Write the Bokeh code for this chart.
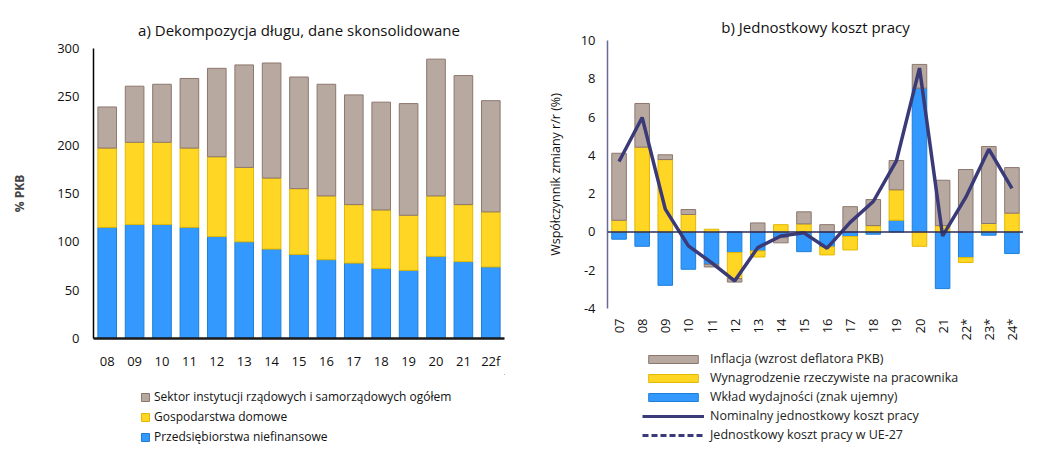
from math import pi
from bokeh.plotting import figure
from bokeh.layouts import row, column
from bokeh.models import (Legend, LegendItem, FactorRange, Range1d, Span, FixedTicker,
                          PrintfTickFormatter)
from bokeh.embed import file_html
from bokeh.resources import INLINE

FONT = "Open Sans"

# ---------- panel a data ----------
years_a = ["08", "09", "10", "11", "12", "13", "14", "15", "16", "17", "18", "19", "20", "21", "22f"]
przedsiebiorstwa = [115, 118, 118, 115, 105.5, 100, 92.5, 87, 81.5, 78, 72.5, 70.5, 85, 79.5, 74]
gospodarstwa = [82, 85, 85, 82, 82.5, 77, 73.5, 68, 66, 60.5, 60.5, 57, 62.5, 59, 57]
sektor_rzadowy = [42.5, 58, 60, 72, 91.5, 106, 119, 115.5, 115.5, 113.5, 111.5, 115.5, 141.5, 133.5, 115]
ticks_a = [0, 50, 100, 150, 200, 250, 300]

# ---------- panel b data ----------
years_b = ["07", "08", "09", "10", "11", "12", "13", "14", "15", "16", "17", "18", "19", "20", "21", "22*", "23*", "24*"]
wydajnosc = [-0.38, -0.75, -2.79, -1.95, -1.69, -1.08, -0.99, -0.30, -1.03, -0.78, -0.24, -0.12, 0.61, 7.51, -2.96, -1.34, -0.17, -1.13]
wynagrodzenie = [0.61, 4.43, 3.78, 0.91, 0.14, -1.36, -0.32, 0.38, 0.42, -0.42, -0.70, 0.33, 1.59, -0.75, 0.33, -0.26, 0.44, 0.98]
inflacja = [3.50, 2.28, 0.25, 0.26, -0.14, -0.18, 0.47, -0.27, 0.63, 0.38, 1.32, 1.36, 1.53, 1.24, 2.37, 3.26, 4.02, 2.38]
nominalny_jkp = [3.68, 5.98, 1.19, -0.73, -1.60, -2.56, -0.82, -0.21, -0.05, -0.85, 0.50, 1.59, 3.71, 8.56, -0.21, 1.80, 4.32, 2.28]
ticks_b = [-4, -2, 0, 2, 4, 6, 8, 10]

labels_a = ["Sektor instytucji rządowych i samorządowych ogółem", "Gospodarstwa domowe",
            "Przedsiębiorstwa niefinansowe"]
labels_b = ["Inflacja (wzrost deflatora PKB)", "Wynagrodzenie rzeczywiste na pracownika",
            "Wkład wydajności (znak ujemny)", "Nominalny jednostkowy koszt pracy",
            "Jednostkowy koszt pracy w UE-27"]

BLUE, BLUE_L = "#3399FF", "#1F7FD6"
YELLOW, YELLOW_L = "#FFD624", "#E3B800"
GREY, GREY_L = "#B8A9A0", "#8C776D"
NAVY = "#3A3A78"


def style_axes(p, tick_size):
    for ax in (p.xaxis[0], p.yaxis[0]):
        ax.major_tick_line_color = None
        ax.minor_tick_line_color = None
        ax.major_tick_out = 0
        ax.major_tick_in = 0
        ax.minor_tick_out = 0
        ax.minor_tick_in = 0
        ax.major_label_text_font = FONT
        ax.major_label_text_font_size = tick_size
        ax.major_label_text_color = "#111111"
        ax.axis_label_text_font = FONT
    p.xgrid.grid_line_color = None
    p.ygrid.grid_line_color = None
    p.outline_line_color = None
    p.title.text_font = FONT
    p.title.text_font_style = "normal"
    p.title.text_font_size = "15px"
    p.title.text_color = "#111111"
    p.title.align = "center"


def legend_fig(width, height):
    f = figure(width=width, height=height, x_range=Range1d(0, 1), y_range=Range1d(0, 1),
               min_border=0, output_backend="svg", toolbar_location=None)
    f.axis.visible = False
    f.xgrid.grid_line_color = None
    f.ygrid.grid_line_color = None
    f.outline_line_color = None
    return f


# ---------- panel a ----------
pa = figure(x_range=FactorRange(factors=years_a, range_padding=0), y_range=Range1d(0, 300),
            width=517, height=374, min_border_left=93, min_border_right=13,
            min_border_top=48, min_border_bottom=36,
            output_backend="svg", toolbar_location=None,
            title="a) Dekompozycja długu, dane skonsolidowane")
style_axes(pa, "13px")
pa.title.standoff = 17
data_a = dict(x=years_a, p1=przedsiebiorstwa, p2=gospodarstwa, p3=sektor_rzadowy)
pa.vbar_stack(["p1", "p2", "p3"], x="x", width=0.68, source=data_a,
              fill_color=[BLUE, YELLOW, GREY], line_color=[BLUE_L, YELLOW_L, GREY_L], line_width=1)
pa.yaxis.ticker = FixedTicker(ticks=ticks_a)
pa.yaxis.axis_label = "% PKB"
pa.yaxis.axis_label_text_font_size = "12px"
pa.yaxis.axis_label_text_font_style = "bold"
pa.yaxis.axis_label_standoff = 26
pa.yaxis.major_label_standoff = 14
pa.yaxis.axis_line_color = "#000000"
pa.yaxis.axis_line_width = 1.5
pa.xaxis.axis_line_color = "#1a1a1a"
pa.xaxis.axis_line_width = 2.5
pa.xaxis.major_label_standoff = 13

la = legend_fig(517, 71)
ra = [la.vbar(x=[5], bottom=[5], top=[6], width=0.5, fill_color=c, line_color=lc)
      for c, lc in [(GREY, GREY_L), (YELLOW, YELLOW_L), (BLUE, BLUE_L)]]
leg_a = Legend(items=[LegendItem(label=t, renderers=[r]) for t, r in zip(labels_a, ra)],
               glyph_width=10, glyph_height=10, label_standoff=4, label_height=16, spacing=3,
               label_text_font=FONT, label_text_font_size="12px", label_text_color="#111111",
               padding=0, margin=0, border_line_color=None, background_fill_alpha=0,
               location=(47, 0))
la.add_layout(leg_a, "center")

# ---------- panel b ----------
pb = figure(x_range=FactorRange(factors=years_b, range_padding=0), y_range=Range1d(-4, 10),
            width=506, height=344, min_border_left=90, min_border_right=0,
            min_border_top=40, min_border_bottom=36,
            output_backend="svg", toolbar_location=None,
            title="b) Jednostkowy koszt pracy")
style_axes(pb, "13px")
pb.title.standoff = 7

series = [(wydajnosc, BLUE, BLUE_L), (wynagrodzenie, YELLOW, YELLOW_L), (inflacja, GREY, GREY_L)]
pos = [0.0] * len(years_b)
neg = [0.0] * len(years_b)
for vals, fc, lc in series:
    bottoms, tops = [], []
    for i, v in enumerate(vals):
        if v >= 0:
            bottoms.append(pos[i]); tops.append(pos[i] + v); pos[i] += v
        else:
            tops.append(neg[i]); bottoms.append(neg[i] + v); neg[i] += v
    pb.vbar(x=years_b, bottom=bottoms, top=tops, width=0.63, fill_color=fc, line_color=lc, line_width=1)

pb.add_layout(Span(location=0, dimension="width", line_color="#2B2B5A", line_width=1.5))
pb.line(x=years_b, y=nominalny_jkp, line_color=NAVY, line_width=3.5)

pb.yaxis.ticker = FixedTicker(ticks=ticks_b)
pb.yaxis.formatter = PrintfTickFormatter(format="%d")
pb.yaxis.axis_label = "Współczynnik zmiany r/r (%)"
pb.yaxis.axis_label_text_font_size = "12.5px"
pb.yaxis.axis_label_text_font_style = "normal"
pb.yaxis.axis_label_text_color = "#111111"
pb.yaxis.axis_label_standoff = 14
pb.yaxis.major_label_standoff = 12
pb.yaxis.axis_line_color = "#6A6A96"
pb.yaxis.axis_line_width = 1.5
pb.xaxis.axis_line_color = None
pb.xaxis.major_label_orientation = pi / 2
pb.xaxis.major_label_standoff = 10

lb = legend_fig(506, 101)
rb = [lb.vbar(x=[5], bottom=[5], top=[6], width=0.5, fill_color=c, line_color=lc)
      for c, lc in [(GREY, GREY_L), (YELLOW, YELLOW_L), (BLUE, BLUE_L)]]
rb.append(lb.line(x=[5, 6], y=[5, 5], line_color=NAVY, line_width=3))
rb.append(lb.line(x=[5, 6], y=[5, 5], line_color=NAVY, line_width=3, line_dash="6 3"))
leg_b = Legend(items=[LegendItem(label=t, renderers=[r]) for t, r in zip(labels_b, rb)],
               glyph_width=62, glyph_height=10, label_standoff=6, label_height=17, spacing=2,
               label_text_font=FONT, label_text_font_size="12.5px", label_text_color="#222222",
               padding=0, margin=0, border_line_color=None, background_fill_alpha=0,
               location=(35, 2))
lb.add_layout(leg_b, "center")

layout = row(column(pa, la), column(pb, lb))
open("out.html", "w").write(file_html(layout, INLINE))
